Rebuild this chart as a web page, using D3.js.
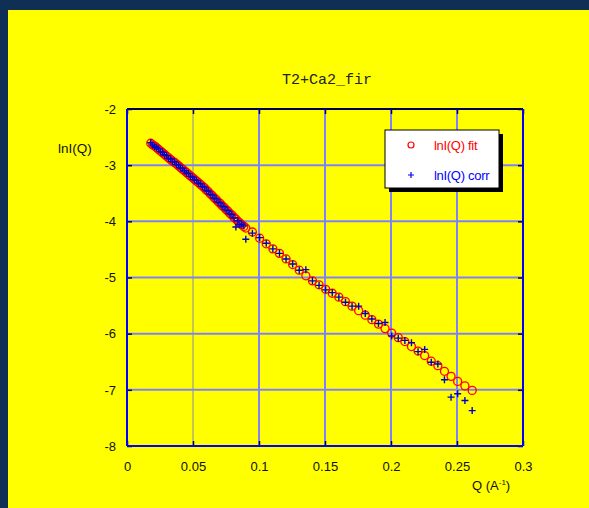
<!DOCTYPE html>
<html>
<head>
<meta charset="utf-8">
<script src="https://cdn.jsdelivr.net/npm/d3@7"></script>
<style>
  body { margin: 0; background: #0f2f55; }
  svg { display: block; }
</style>
</head>
<body>
<svg id="chart"></svg>
<script>
var w = 589;
var h = 508;

// Q values (A^-1), shared by both series
var qValues = [
  0.0180, 0.0195, 0.0210, 0.0225, 0.0240, 0.0255, 0.0270, 0.0285, 0.0300, 0.0315,
  0.0330, 0.0345, 0.0360, 0.0375, 0.0390, 0.0405, 0.0420, 0.0435, 0.0450, 0.0465,
  0.0480, 0.0495, 0.0510, 0.0525, 0.0540, 0.0555, 0.0570, 0.0585, 0.0600, 0.0615,
  0.0630, 0.0645, 0.0660, 0.0675, 0.0690, 0.0705, 0.0720, 0.0735, 0.0750, 0.0765,
  0.0780, 0.0795, 0.0810, 0.0825, 0.0840, 0.0855, 0.0870, 0.0885, 0.0900,
  0.0950, 0.1005, 0.1055, 0.1105, 0.1155, 0.1205, 0.1255, 0.1305, 0.1355, 0.1405,
  0.1455, 0.1505, 0.1555, 0.1605, 0.1655, 0.1705, 0.1755, 0.1805, 0.1855, 0.1905,
  0.1955, 0.2005, 0.2055, 0.2105, 0.2155, 0.2205, 0.2255, 0.2305, 0.2355, 0.2405,
  0.2455, 0.2505, 0.2560, 0.2615
];

// lnI(Q) fit
var lnFit = [
  -2.61, -2.64, -2.66, -2.69, -2.72, -2.75, -2.78, -2.81, -2.84, -2.87,
  -2.90, -2.93, -2.95, -2.98, -3.01, -3.04, -3.07, -3.10, -3.13, -3.16,
  -3.19, -3.22, -3.25, -3.28, -3.31, -3.34, -3.37, -3.40, -3.44, -3.47,
  -3.51, -3.54, -3.58, -3.61, -3.65, -3.68, -3.72, -3.75, -3.79, -3.82,
  -3.86, -3.89, -3.93, -3.96, -4.00, -4.03, -4.06, -4.09, -4.12,
  -4.19, -4.30, -4.40, -4.49, -4.57, -4.67, -4.77, -4.87, -4.97, -5.06,
  -5.13, -5.21, -5.28, -5.35, -5.43, -5.51, -5.59, -5.67, -5.75, -5.83,
  -5.91, -5.99, -6.07, -6.14, -6.23, -6.31, -6.39, -6.49, -6.57, -6.67,
  -6.76, -6.85, -6.93, -7.01
];

// lnI(Q) corr
var lnCorr = [
  -2.60, -2.64, -2.67, -2.69, -2.71, -2.76, -2.77, -2.82, -2.83, -2.88,
  -2.89, -2.94, -2.94, -2.99, -3.00, -3.05, -3.06, -3.10, -3.14, -3.15,
  -3.20, -3.21, -3.26, -3.27, -3.32, -3.33, -3.38, -3.39, -3.45, -3.46,
  -3.52, -3.53, -3.59, -3.60, -3.66, -3.67, -3.73, -3.74, -3.80, -3.81,
  -3.87, -3.88, -3.94, -4.10, -3.99, -4.06, -4.05, -4.08, -4.32,
  -4.21, -4.29, -4.39, -4.49, -4.57, -4.67, -4.76, -4.87, -4.86, -5.06,
  -5.14, -5.22, -5.27, -5.35, -5.44, -5.51, -5.51, -5.64, -5.74, -5.82,
  -5.80, -6.04, -6.08, -6.12, -6.16, -6.32, -6.28, -6.51, -6.54, -6.82,
  -7.13, -7.07, -7.19, -7.37
];

var xTicks = [0, 0.05, 0.1, 0.15, 0.2, 0.25, 0.3];
var yTicks = [-8, -7, -6, -5, -4, -3, -2];

var svg = d3.select("#chart")
    .attr("width", w)
    .attr("height", h);

// yellow figure panel
svg.append("rect")
    .attr("x", 8).attr("y", 10)
    .attr("width", w - 8).attr("height", h - 10)
    .attr("fill", "#ffff00");

var pl = 127, pr = 523, pt = 109, pb = 446;

var x = d3.scaleLinear().domain([0, 0.3]).range([pl, pr]);
var y = d3.scaleLinear().domain([-8, -2]).range([pb, pt]);

// grid
svg.append("g").selectAll("line")
    .data(xTicks.slice(1, -1))
    .enter().append("line")
    .attr("x1", function(d) { return x(d); })
    .attr("x2", function(d) { return x(d); })
    .attr("y1", pt).attr("y2", pb)
    .attr("stroke", function(d) { return d === 0.05 ? "#8a8aa8" : "#8080ff"; })
    .attr("stroke-width", function(d) { return d === 0.05 ? 1 : 2; });

svg.append("g").selectAll("line")
    .data(yTicks.slice(1, -1))
    .enter().append("line")
    .attr("x1", pl).attr("x2", pr)
    .attr("y1", function(d) { return y(d); })
    .attr("y2", function(d) { return y(d); })
    .attr("stroke", "#8080ff")
    .attr("stroke-width", 2);

// axes (plain hyphen minus like the original)
function fmt(d) { return String(d); }

svg.append("g")
    .attr("transform", "translate(0," + pb + ")")
    .call(d3.axisBottom(x).tickValues(xTicks).tickFormat(fmt).tickSize(-5).tickPadding(16));

svg.append("g")
    .attr("transform", "translate(" + pl + ",0)")
    .call(d3.axisLeft(y).tickValues(yTicks).tickFormat(fmt).tickSize(-5).tickPadding(11));

svg.append("g")
    .attr("transform", "translate(" + pr + ",0)")
    .call(d3.axisRight(y).tickValues(yTicks).tickFormat("").tickSize(-5));

svg.append("g")
    .attr("transform", "translate(0," + pt + ")")
    .call(d3.axisTop(x).tickValues(xTicks).tickFormat("").tickSize(-5));

svg.selectAll(".domain").remove();
svg.selectAll(".tick line").attr("stroke", "#000040").attr("stroke-width", 1.5);
svg.selectAll(".tick text")
    .attr("font-family", "Arial, 'Liberation Sans', sans-serif")
    .attr("font-size", 13)
    .attr("fill", "#111");

// frame
svg.append("line")
    .attr("x1", pl).attr("x2", pr).attr("y1", pt).attr("y2", pt)
    .attr("stroke", "#000060").attr("stroke-width", 2);
svg.append("line")
    .attr("x1", pl).attr("x2", pr).attr("y1", pb).attr("y2", pb)
    .attr("stroke", "#0000ff").attr("stroke-width", 2);
svg.append("line")
    .attr("x1", pl).attr("x2", pl).attr("y1", pt).attr("y2", pb)
    .attr("stroke", "#0000ff").attr("stroke-width", 2);
svg.append("line")
    .attr("x1", pr).attr("x2", pr).attr("y1", pt).attr("y2", pb)
    .attr("stroke", "#0000ff").attr("stroke-width", 2);

// fit circles
svg.append("g").selectAll("circle")
    .data(qValues)
    .enter().append("circle")
    .attr("cx", function(d) { return x(d); })
    .attr("cy", function(d, i) { return y(lnFit[i]); })
    .attr("r", 4)
    .attr("fill", "none")
    .attr("stroke", "#ff0000")
    .attr("stroke-width", 1.3);

// corr pluses
svg.append("g").selectAll("path")
    .data(qValues)
    .enter().append("path")
    .attr("d", "M-3.5,0H3.5M0,-3.5V3.5")
    .attr("transform", function(d, i) { return "translate(" + x(d) + "," + y(lnCorr[i]) + ")"; })
    .attr("fill", "none")
    .attr("stroke", "#0000c8")
    .attr("stroke-width", 1.4);

// title & labels
svg.append("text")
    .attr("x", 327).attr("y", 84)
    .attr("text-anchor", "middle")
    .attr("font-family", "'Liberation Mono', 'Courier New', monospace")
    .attr("font-size", 15)
    .attr("fill", "#222")
    .text("T2+Ca2_fir");

svg.append("text")
    .attr("x", 58).attr("y", 153)
    .attr("font-family", "Arial, 'Liberation Sans', sans-serif")
    .attr("font-size", 13.5)
    .attr("fill", "#111")
    .text("lnI(Q)");

var xl = svg.append("text")
    .attr("x", 472).attr("y", 490)
    .attr("font-family", "Arial, 'Liberation Sans', sans-serif")
    .attr("font-size", 13)
    .attr("fill", "#111");
xl.append("tspan").text("Q (A");
xl.append("tspan").attr("dy", -5).attr("font-size", 8).text("-1");
xl.append("tspan").attr("dy", 5).text(")");

// legend
var lg = svg.append("g");
lg.append("rect")
    .attr("x", 389).attr("y", 134).attr("width", 114).attr("height", 58)
    .attr("fill", "#000");
lg.append("rect")
    .attr("x", 385).attr("y", 130).attr("width", 114).attr("height", 58)
    .attr("fill", "#fff").attr("stroke", "#000").attr("stroke-width", 1);
lg.append("circle")
    .attr("cx", 411).attr("cy", 145).attr("r", 3)
    .attr("fill", "none").attr("stroke", "#ff0000").attr("stroke-width", 1.2);
lg.append("path")
    .attr("d", "M-3,0H3M0,-3V3")
    .attr("transform", "translate(411,175)")
    .attr("stroke", "#0000ff").attr("stroke-width", 1.2);
lg.append("text")
    .attr("x", 434).attr("y", 149.5)
    .attr("font-family", "Arial, 'Liberation Sans', sans-serif")
    .attr("font-size", 13).attr("fill", "#ff0000")
    .attr("letter-spacing", -0.3)
    .text("lnI(Q) fit");
lg.append("text")
    .attr("x", 434).attr("y", 179.5)
    .attr("font-family", "Arial, 'Liberation Sans', sans-serif")
    .attr("font-size", 13).attr("fill", "#0000ff")
    .attr("letter-spacing", -0.3)
    .text("lnI(Q) corr");
</script>
</body>
</html>
